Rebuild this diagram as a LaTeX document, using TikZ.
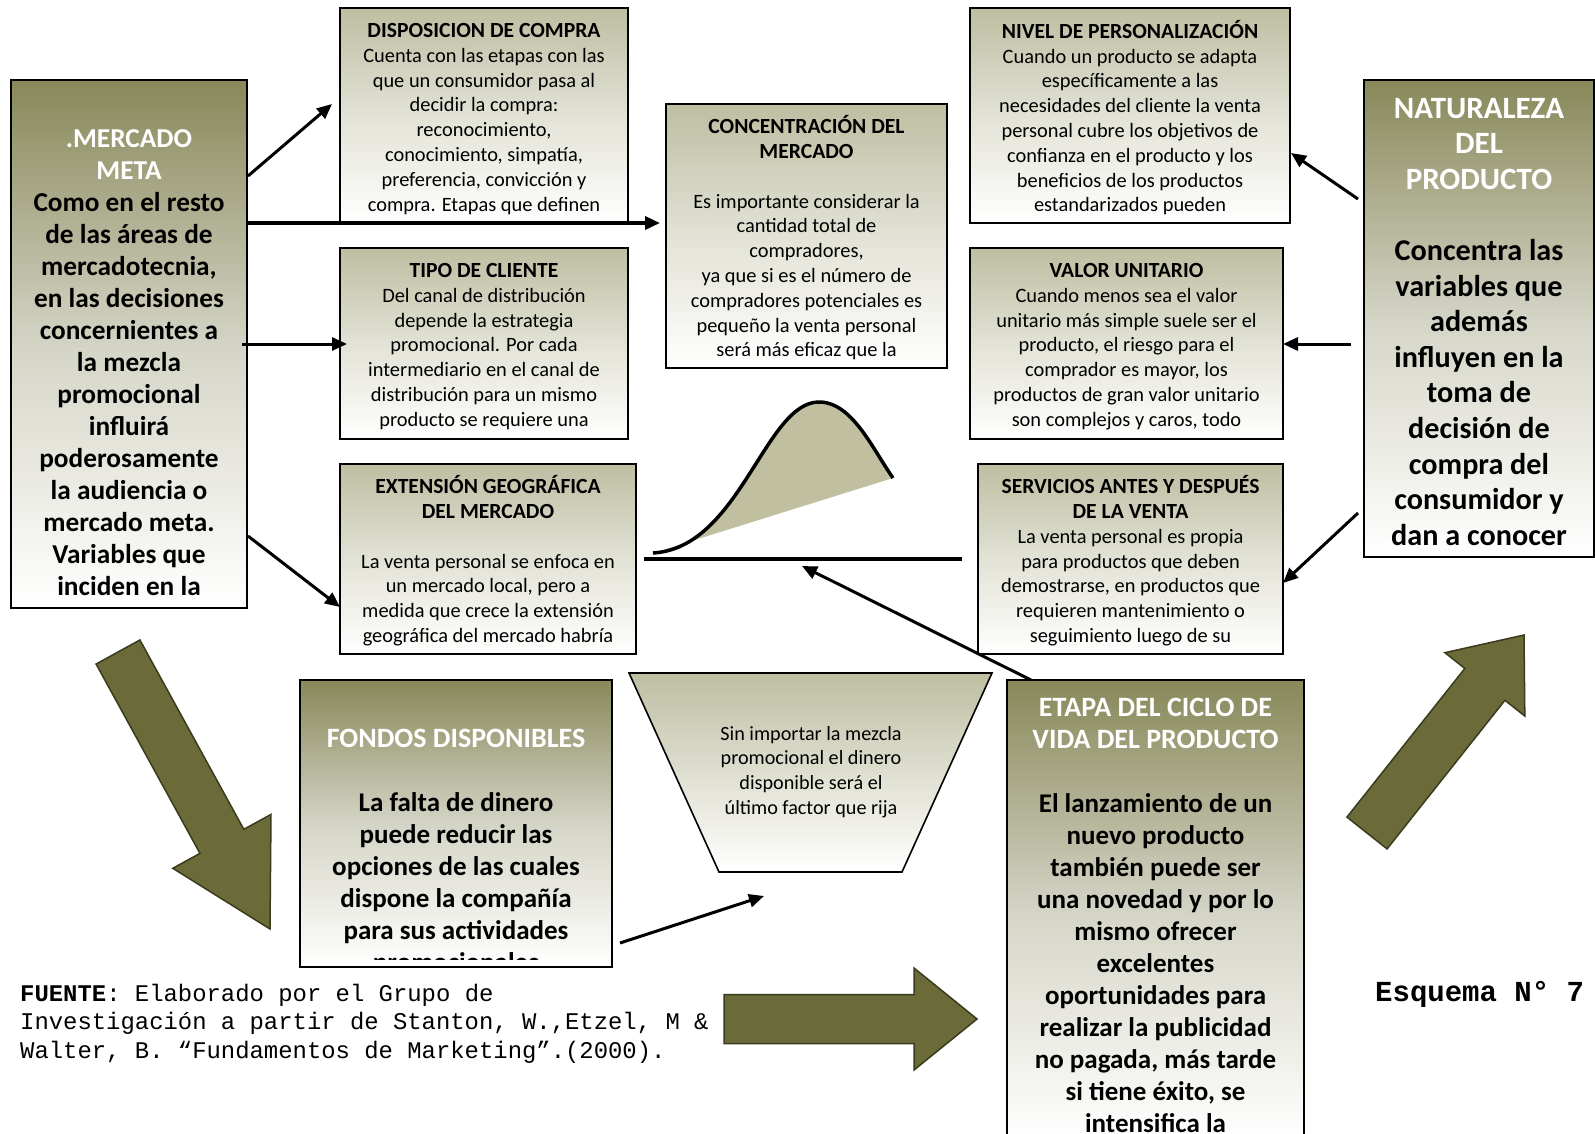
\documentclass[tikz,border=0pt]{standalone}
\usepackage{fontspec}
\setmainfont{Carlito}
\newfontfamily\monofont{Liberation Mono}
\usetikzlibrary{arrows.meta,calc}

\definecolor{olivedark}{RGB}{136,136,90}
\definecolor{olivemid}{RGB}{212,212,198}
\definecolor{olivelight}{RGB}{190,190,162}
\definecolor{olivelightmid}{RGB}{226,226,214}
\definecolor{arrowfill}{RGB}{107,107,58}
\definecolor{arrowedge}{RGB}{58,58,28}
\definecolor{bellfill}{RGB}{192,192,160}

% white title text inside the dark panels
\newcommand\wt[1]{\textcolor{white}{#1}}

% panel: name, x1, y1, x2, y2, shading style, text top, font, text
\newcommand\panel[9]{%
  \node[#6, minimum width={(#4-#2)*1pt}, minimum height={(#5-#3)*1pt}] (#1) at ({(#2+#4)/2},{(#3+#5)/2}) {};
  \begin{scope}
    \clip ($(#1.south west)+(0,-8)$) rectangle (#1.north east);
    \node[paneltext, font={#8}] (#1-text) at ({(#2+#4)/2},#7) {\strut #9};
  \end{scope}
  \draw[panelborder] (#1.south west) rectangle (#1.north east);
}

% block arrow: tail, tip, shaft half width, head half width, head length
\newcommand\blockarrow[5]{%
  \coordinate (ba-c) at ($(#2)!#5!(#1)$);
  \filldraw[bigarrow] ($(#1)!#3!90:(#2)$) -- ($(ba-c)!#3!-90:(#1)$) -- ($(ba-c)!#4!-90:(#1)$)
    -- (#2) -- ($(ba-c)!#4!90:(#1)$) -- ($(ba-c)!#3!90:(#1)$) -- ($(#1)!#3!-90:(#2)$) -- cycle;
}

\begin{document}
\begin{tikzpicture}[x=1pt,y=-1pt,
  darkbox/.style={top color=olivedark, bottom color=white, middle color=olivemid, inner sep=0pt, outer sep=0pt},
  lightbox/.style={top color=olivelight, bottom color=white, middle color=olivelightmid, inner sep=0pt, outer sep=0pt},
  panelborder/.style={draw=black, line width=1.6pt},
  paneltext/.style={anchor=north, inner sep=0pt, outer sep=0pt, align=center},
  conn/.style={line width=3pt, -{Triangle[length=15pt,width=13pt]}},
  bigarrow/.style={fill=arrowfill, draw=arrowedge, line width=1.5pt, line join=miter}
]
\clip (0,0) rectangle (1595,1133);
\fill[white] (0,0) rectangle (1595,1133);

\def\sm{\fontsize{20.4}{24.8}\selectfont}
\newcommand\hd[1]{{\bfseries\fontsize{21.6}{24.8}\selectfont #1}}

% ---- panels ----
\panel{merc}{11}{80}{247}{608}{darkbox}{124.6}{\bfseries\fontsize{27.3}{32}\selectfont}{\wt{.MERCADO}\\\wt{META}\\Como en el resto\\de las áreas de\\mercadotecnia,\\en las decisiones\\concernientes a\\la mezcla\\promocional\\influirá\\poderosamente\\la audiencia o\\mercado meta.\\Variables que\\inciden en la}

\panel{disp}{340}{8}{628}{223}{lightbox}{20.1}{\sm}{\hd{DISPOSICION DE COMPRA}\\Cuenta con las etapas con las\\que un consumidor pasa al\\decidir la compra:\\reconocimiento,\\conocimiento, simpatía,\\preferencia, convicción y\\compra. Etapas que definen}

\panel{conc}{666}{104}{947}{368}{lightbox}{115.6}{\sm}{\hd{CONCENTRACIÓN DEL}\\\hd{MERCADO}\\~\\Es importante considerar la\\cantidad total de\\compradores,\\ya que si es el número de\\compradores potenciales es\\pequeño la venta personal\\será más eficaz que la}

\panel{nivel}{970}{8}{1290}{223}{lightbox}{20.1}{\sm}{\hd{NIVEL DE PERSONALIZACIÓN}\\Cuando un producto se adapta\\específicamente a las\\necesidades del cliente la venta\\personal cubre los objetivos de\\confianza en el producto y los\\beneficios de los productos\\estandarizados pueden}

\panel{nat}{1364}{80}{1594}{557}{darkbox}{93.1}{\bfseries\fontsize{30.2}{35.6}\selectfont}{\wt{\fontsize{31}{35.6}\selectfont NATURALEZA}\\\wt{\fontsize{31}{35.6}\selectfont DEL}\\\wt{\fontsize{31}{35.6}\selectfont PRODUCTO}\\~\\Concentra las\\variables que\\además\\influyen en la\\toma de\\decisión de\\compra del\\consumidor y\\dan a conocer}

\panel{tipo}{340}{248}{628}{439}{lightbox}{260.1}{\sm}{\hd{TIPO DE CLIENTE}\\Del canal de distribución\\depende la estrategia\\promocional. Por cada\\intermediario en el canal de\\distribución para un mismo\\producto se requiere una}

\panel{valor}{970}{248}{1283}{439}{lightbox}{260.1}{\sm}{\hd{VALOR UNITARIO}\\Cuando menos sea el valor\\unitario más simple suele ser el\\producto, el riesgo para el\\comprador es mayor, los\\productos de gran valor unitario\\son complejos y caros, todo}

\panel{ext}{340}{464}{636}{654}{lightbox}{475.6}{\sm}{\hd{EXTENSIÓN GEOGRÁFICA}\\\hd{DEL MERCADO}\\~\\La venta personal se enfoca en\\un mercado local, pero a\\medida que crece la extensión\\geográfica del mercado habría}

\panel{serv}{978}{464}{1283}{654}{lightbox}{475.6}{\sm}{\hd{SERVICIOS ANTES Y DESPUÉS}\\\hd{DE LA VENTA}\\La venta personal es propia\\para productos que deben\\demostrarse, en productos que\\requieren mantenimiento o\\seguimiento luego de su}

\panel{fondos}{300}{680}{612}{967}{darkbox}{725.1}{\bfseries\fontsize{27}{32}\selectfont}{\wt{\fontsize{28}{32}\selectfont FONDOS DISPONIBLES}\\~\\La falta de dinero\\puede reducir las\\opciones de las cuales\\dispone la compañía\\para sus actividades\\promocionales}

\panel{etapa}{1007}{680}{1304}{1140}{darkbox}{693.6}{\bfseries\fontsize{27}{32}\selectfont}{\wt{\fontsize{28}{32}\selectfont ETAPA DEL CICLO DE}\\\wt{\fontsize{28}{32}\selectfont VIDA DEL PRODUCTO}\\~\\El lanzamiento de un\\nuevo producto\\también puede ser\\una novedad y por lo\\mismo ofrecer\\excelentes\\oportunidades para\\realizar la publicidad\\no pagada, más tarde\\si tiene éxito, se\\intensifica la}

% ---- funnel ----
\coordinate (tz-a) at (629,673);
\coordinate (tz-b) at (992,673);
\coordinate (tz-c) at (902,872);
\coordinate (tz-d) at (719,872);
\shade[top color=olivelight, bottom color=white, draw=black, line width=1.6pt] (tz-a) -- (tz-b) -- (tz-c) -- (tz-d) -- cycle;
\node[paneltext, font=\fontsize{20.2}{24.9}\selectfont] (funnel-text) at (811,722.6)
  {\strut Sin importar la mezcla\\promocional el dinero\\disponible será el\\último factor que rija};

% ---- life-cycle curve ----
\coordinate (bell-l) at (644,559);
\coordinate (bell-r) at (962,559);
\coordinate (bell-s) at (653,553);
\coordinate (bell-p) at (819,402);
\coordinate (bell-e) at (893,478);
\fill[bellfill] (bell-s) .. controls (740,548) and (765,402) .. (bell-p)
  .. controls (852,402) and (872,448) .. (bell-e) -- cycle;
\draw[line width=3.5pt] (bell-s) .. controls (740,548) and (765,402) .. (bell-p)
  .. controls (852,402) and (872,448) .. (bell-e);
\draw[line width=4pt] (bell-l) -- (bell-r);

% ---- connectors ----
\coordinate (m1) at (248,176);   \coordinate (d1) at (332,104);
\coordinate (m2) at (247,223);   \coordinate (c2) at (660,223);
\coordinate (m3) at (242,344);   \coordinate (t3) at (347,344);
\coordinate (m4) at (248,536);   \coordinate (e4) at (340,607);
\coordinate (n5) at (1358,199);  \coordinate (v5) at (1291,153);
\coordinate (n6) at (1351,344);  \coordinate (v6) at (1283,344);
\coordinate (n7) at (1358,513);  \coordinate (s7) at (1283,583);
\coordinate (et8) at (1031,680); \coordinate (b8) at (802,566);
\coordinate (f9) at (620,943);   \coordinate (g9) at (764,896);

\draw[conn] (m1) -- (d1);
\draw[conn, line width=3.5pt] (m2) -- (c2);
\draw[conn] (m3) -- (t3);
\draw[conn] (m4) -- (e4);
\draw[conn] (n5) -- (v5);
\draw[conn] (n6) -- (v6);
\draw[conn] (n7) -- (s7);
\draw[conn] (et8) -- (b8);
\draw[conn] (f9) -- (g9);

% ---- block arrows ----
\coordinate (la-tail) at (118,652);  \coordinate (la-tip) at (270,929);
\coordinate (ra-tail) at (1367,833); \coordinate (ra-tip) at (1524,635);
\coordinate (ba-tail) at (724,1019); \coordinate (ba-tip) at (977,1019);
\blockarrow{la-tail}{la-tip}{25pt}{56pt}{100pt}
\blockarrow{ra-tail}{ra-tip}{25.6pt}{51pt}{63pt}
\blockarrow{ba-tail}{ba-tip}{24.5pt}{51pt}{63pt}

% ---- source note and label ----
\node[anchor=north west, inner sep=0pt, align=left, font=\monofont\fontsize{23.9}{28.5}\selectfont] (fuente) at (20,981)
  {\strut\textbf{FUENTE}: Elaborado por el Grupo de\\Investigación a partir de Stanton, W.,Etzel, M \&\\Walter, B. “Fundamentos de Marketing”.(2000).};
\node[anchor=base west, inner sep=0pt, font=\monofont\bfseries\fontsize{29}{34}\selectfont] (esquema) at (1375,1001) {Esquema N° 7};
\end{tikzpicture}
\end{document}
